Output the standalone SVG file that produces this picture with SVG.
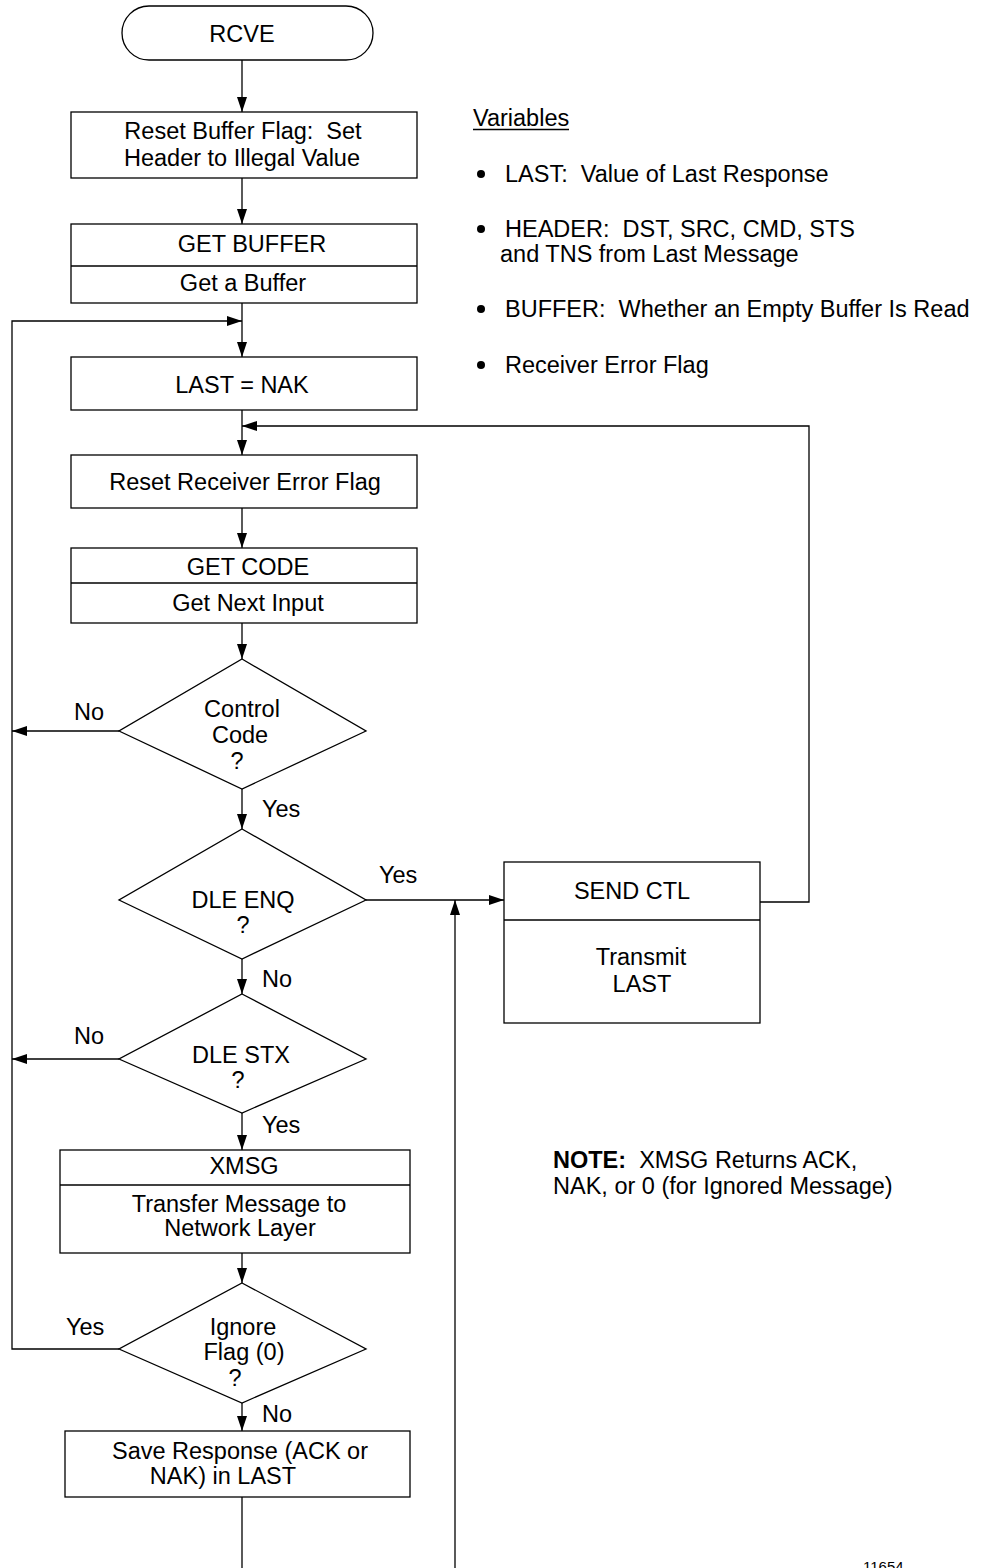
<svg xmlns="http://www.w3.org/2000/svg" width="1001" height="1568" viewBox="0 0 1001 1568">
<defs>
<marker id="arr" markerUnits="userSpaceOnUse" markerWidth="15" markerHeight="10" refX="15" refY="5" orient="auto">
<path d="M0,0 L15,5 L0,10 z" fill="#000"/>
</marker>
<style>
.s{fill:#fff;stroke:#000;stroke-width:1.3}
.l{fill:none;stroke:#000;stroke-width:1.3}
.a{fill:none;stroke:#000;stroke-width:1.3;marker-end:url(#arr)}
text{font-family:"Liberation Sans",Arial,sans-serif;font-size:23.5px;fill:#000;white-space:pre}
.c{text-anchor:middle}
</style>
</defs>
<rect width="1001" height="1568" fill="#fff"/>

<g id="connectors">
<line class="a" x1="242" y1="60" x2="242" y2="112"/>
<line class="a" x1="242" y1="178" x2="242" y2="224"/>
<line class="a" x1="242" y1="303" x2="242" y2="357"/>
<polyline class="a" points="119,1349 12,1349 12,321 242,321"/>
<line class="a" x1="242" y1="410" x2="242" y2="455"/>
<polyline class="a" points="760,902 809,902 809,426 242,426"/>
<line class="a" x1="242" y1="508" x2="242" y2="548"/>
<line class="a" x1="242" y1="623" x2="242" y2="659"/>
<line class="a" x1="119" y1="731" x2="12" y2="731"/>
<line class="a" x1="242" y1="789" x2="242" y2="829"/>
<line class="a" x1="366" y1="900" x2="504" y2="900"/>
<line class="a" x1="242" y1="959" x2="242" y2="994"/>
<line class="a" x1="119" y1="1059" x2="12" y2="1059"/>
<line class="a" x1="242" y1="1113" x2="242" y2="1150"/>
<line class="a" x1="242" y1="1253" x2="242" y2="1283"/>
<line class="a" x1="242" y1="1403" x2="242" y2="1431"/>
<line class="l" x1="242" y1="1497" x2="242" y2="1568"/>
<line class="a" x1="455" y1="1568" x2="455" y2="900"/>
<text x="74" y="720">No</text>
<text x="262" y="817">Yes</text>
<text x="379" y="883">Yes</text>
<text x="262" y="987">No</text>
<text x="74" y="1044">No</text>
<text x="262" y="1133">Yes</text>
<text x="66" y="1335">Yes</text>
<text x="262" y="1422">No</text>
</g>

<g id="rcve">
<rect class="s" x="122" y="6" width="251" height="54" rx="27"/>
<text class="c" x="242" y="42">RCVE</text>
</g>

<g id="reset-buffer">
<rect class="s" x="71" y="112" width="346" height="66"/>
<text class="c" x="243" y="139">Reset Buffer Flag:  Set</text>
<text class="c" x="242" y="166">Header to Illegal Value</text>
</g>

<g id="get-buffer">
<rect class="s" x="71" y="224" width="346" height="79"/>
<line class="l" x1="71" y1="266" x2="417" y2="266"/>
<text class="c" x="252" y="252">GET BUFFER</text>
<text class="c" x="243" y="291">Get a Buffer</text>
</g>

<g id="last-nak">
<rect class="s" x="71" y="357" width="346" height="53"/>
<text class="c" x="242" y="393">LAST = NAK</text>
</g>

<g id="reset-receiver">
<rect class="s" x="71" y="455" width="346" height="53"/>
<text class="c" x="245" y="490">Reset Receiver Error Flag</text>
</g>

<g id="get-code">
<rect class="s" x="71" y="548" width="346" height="75"/>
<line class="l" x1="71" y1="583" x2="417" y2="583"/>
<text class="c" x="248" y="575">GET CODE</text>
<text class="c" x="248" y="611">Get Next Input</text>
</g>

<g id="control-code">
<polygon class="s" points="242,659 366,731 242,789 119,731"/>
<text class="c" x="242" y="717">Control</text>
<text class="c" x="240" y="743">Code</text>
<text class="c" x="237" y="769">?</text>
</g>

<g id="dle-enq">
<polygon class="s" points="242,829 366,900 242,959 119,900"/>
<text class="c" x="243" y="908">DLE ENQ</text>
<text class="c" x="243" y="933">?</text>
</g>

<g id="send-ctl">
<rect class="s" x="504" y="862" width="256" height="161"/>
<line class="l" x1="504" y1="920" x2="760" y2="920"/>
<text class="c" x="632" y="899">SEND CTL</text>
<text class="c" x="641" y="965">Transmit</text>
<text class="c" x="642" y="992">LAST</text>
</g>

<g id="dle-stx">
<polygon class="s" points="242,994 366,1059 242,1113 119,1059"/>
<text class="c" x="241" y="1063">DLE STX</text>
<text class="c" x="238" y="1088">?</text>
</g>

<g id="xmsg">
<rect class="s" x="60" y="1150" width="350" height="103"/>
<line class="l" x1="60" y1="1185" x2="410" y2="1185"/>
<text class="c" x="244" y="1174">XMSG</text>
<text class="c" x="239" y="1212">Transfer Message to</text>
<text class="c" x="240" y="1236">Network Layer</text>
</g>

<g id="ignore-flag">
<polygon class="s" points="242,1283 366,1349 242,1403 119,1349"/>
<text class="c" x="243" y="1335">Ignore</text>
<text class="c" x="244" y="1360">Flag (0)</text>
<text class="c" x="235" y="1386">?</text>
</g>

<g id="save-response">
<rect class="s" x="65" y="1431" width="345" height="66"/>
<text class="c" x="240" y="1459">Save Response (ACK or</text>
<text class="c" x="223" y="1484">NAK) in LAST</text>
</g>

<g id="variables">
<text x="473" y="126">Variables</text>
<line class="l" x1="473" y1="129.5" x2="569" y2="129.5"/>
<circle cx="481" cy="174" r="4"/>
<text x="505" y="182">LAST:  Value of Last Response</text>
<circle cx="481" cy="229" r="4"/>
<text x="505" y="237">HEADER:  DST, SRC, CMD, STS</text>
<text x="500" y="262">and TNS from Last Message</text>
<circle cx="481" cy="309" r="4"/>
<text x="505" y="317">BUFFER:  Whether an Empty Buffer Is Read</text>
<circle cx="481" cy="365" r="4"/>
<text x="505" y="373">Receiver Error Flag</text>
</g>

<g id="note">
<text x="553" y="1168"><tspan font-weight="bold">NOTE:</tspan>  XMSG Returns ACK,</text>
<text x="553" y="1194">NAK, or 0 (for Ignored Message)</text>
</g>

<text x="863" y="1572" style="font-size:15px">11654</text>
</svg>
